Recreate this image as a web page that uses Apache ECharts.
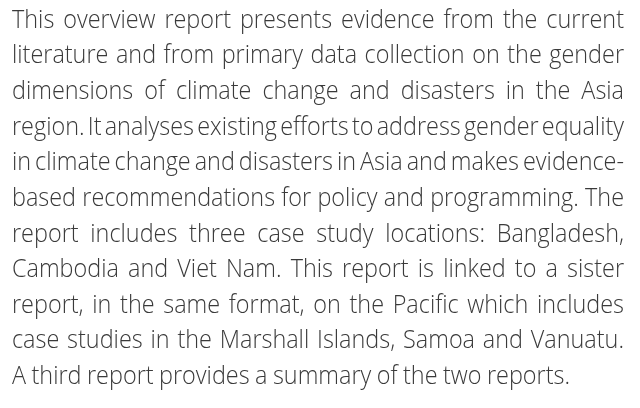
<!DOCTYPE html>
<html>
<head>
<meta charset="utf-8">
<script src="https://cdn.jsdelivr.net/npm/echarts@6/dist/echarts.min.js"></script>
<style>
  html, body { margin: 0; padding: 0; background: #fff; }
  #main { width: 640px; height: 408px; }
</style>
</head>
<body>
<div id="main"></div>
<script>
// paragraph lines, as broken in the reference
const lines = [
  'This overview report presents evidence from the current',
  'literature and from primary data collection on the gender',
  'dimensions of climate change and disasters in the Asia',
  'region. It analyses existing efforts to address gender equality',
  'in climate change and disasters in Asia and makes evidence-',
  'based recommendations for policy and programming. The',
  'report includes three case study locations: Bangladesh,',
  'Cambodia and Viet Nam. This report is linked to a sister',
  'report, in the same format, on the Pacific which includes',
  'case studies in the Marshall Islands, Samoa and Vanuatu.',
  'A third report provides a summary of the two reports.'
];

const fontSize = 25;
const fontFamily = '"Open Sans", "Noto Sans", sans-serif';
const fontWeight = 300;
const textColor = '#3a3a3a';
const left = 12, right = 624;
const lastRight = 570;  // the ragged last line stops here
const firstBaseline = 29.5, lineGap = 35.65;
const minGap = 3.2;    // word space on the tightest justified line

const chart = echarts.init(document.getElementById('main'), null, { renderer: 'canvas' });

// measure words with a scratch canvas
const ctx = document.createElement('canvas').getContext('2d');
ctx.font = fontWeight + ' ' + fontSize + 'px ' + fontFamily;
const wordSum = ws => ws.reduce((a, w) => a + ctx.measureText(w).width, 0);

// horizontal squeeze: the tightest justified line gets minGap spaces
let sx = Infinity;
lines.slice(0, -1).forEach(function (line) {
  const ws = line.split(' ');
  sx = Math.min(sx, (right - left - minGap * (ws.length - 1)) / wordSum(ws));
});

const elements = [];
lines.forEach(function (line, i) {
  const words = line.split(' ');
  const widths = words.map(w => ctx.measureText(w).width * sx);
  const total = widths.reduce((a, b) => a + b, 0);
  const isLast = i === lines.length - 1;
  const gap = ((isLast ? lastRight : right) - left - total) / (words.length - 1);
  let x = left;
  const baseline = firstBaseline + i * lineGap;
  words.forEach(function (w, k) {
    elements.push({
      type: 'text',
      x: x,
      y: baseline - fontSize * 0.36,
      scaleX: sx,
      silent: true,
      style: {
        text: w,
        x: 0,
        y: 0,
        fill: textColor,
        font: fontWeight + ' ' + fontSize + 'px ' + fontFamily,
        verticalAlign: 'middle',
        align: 'left'
      }
    });
    x += widths[k] + gap;
  });
});

chart.setOption({
  backgroundColor: '#ffffff',
  animation: false,
  graphic: { elements: elements }
});
</script>
</body>
</html>
